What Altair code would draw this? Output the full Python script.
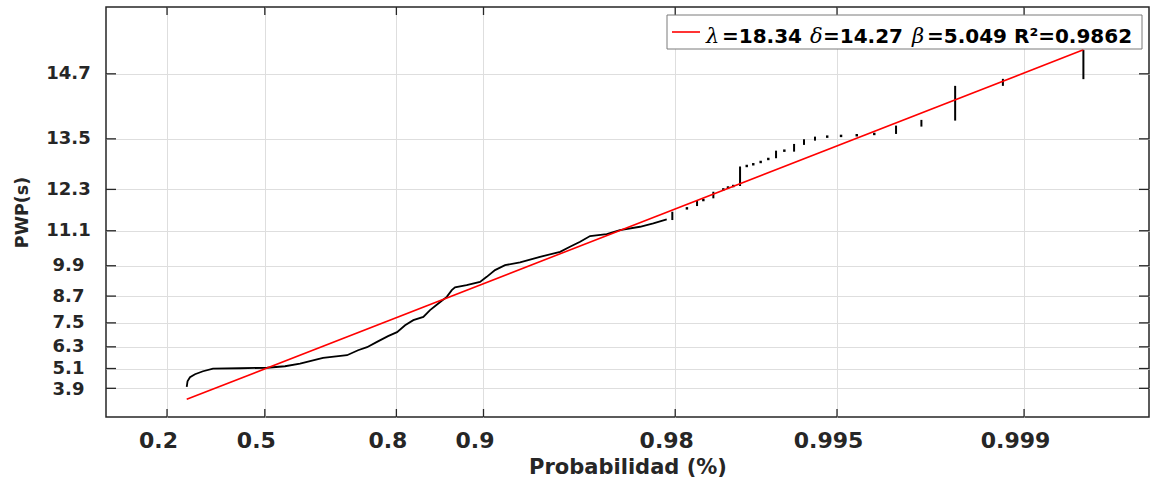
import math
import altair as alt
import pandas as pd

# ---- fitted-distribution parameters (from the legend) ----
LAMBDA = 18.34
LEGEND_LAMBDA = "=18.34 "
LEGEND_DELTA = "=14.27 "
LEGEND_BETA = "=5.049 R\u00b2=0.9862"

# ---- axis ticks and visible ranges ----
X_TICKS = [0.2, 0.5, 0.8, 0.9, 0.98, 0.995, 0.999]
Y_TICKS = [3.9, 5.1, 6.3, 7.5, 8.7, 9.9, 11.1, 12.3, 13.5, 14.7]
X_RANGE = [0.06569, 0.999659]
Y_RANGE = [1.966, 15.624]

# ---- empirical curve (probability, PWP s) ----
CURVE_P = [0.2571, 0.2595, 0.2670, 0.2823, 0.3071, 0.3386, 0.4239, 0.5066, 0.5585,
           0.5994, 0.6572, 0.7108, 0.7331, 0.7503, 0.7682, 0.7868, 0.8010, 0.8130,
           0.8246, 0.8379, 0.8462, 0.8560, 0.8654, 0.8707, 0.8740, 0.8853, 0.8971,
           0.9026, 0.9090, 0.9162, 0.9260, 0.9373, 0.9470, 0.9512, 0.9552, 0.9588,
           0.9642, 0.9680, 0.9730, 0.9759, 0.9785]
CURVE_Y = [3.986, 4.34, 4.584, 4.763, 4.941, 5.098, 5.116, 5.145, 5.231,
           5.386, 5.701, 5.849, 6.120, 6.280, 6.558, 6.849, 7.048, 7.389,
           7.627, 7.782, 8.087, 8.384, 8.668, 8.948, 9.059, 9.152, 9.283,
           9.480, 9.737, 9.923, 10.023, 10.224, 10.401, 10.573, 10.742, 10.930,
           10.994, 11.122, 11.226, 11.331, 11.453]

# ---- upper tail: vertical runs of tied plotting positions ----
SEG_P = [0.9795, 0.9834, 0.98556, 0.98851, 0.99156, 0.99277, 0.99336, 0.99396,
         0.99699, 0.99758, 0.99819, 0.99880, 0.99940]
SEG_LO = [11.432, 11.843, 12.059, 12.389, 13.071, 13.221, 13.370, 13.462,
          13.603, 13.753, 13.872, 14.503, 14.614]
SEG_HI = [11.679, 11.984, 12.238, 12.877, 13.243, 13.391, 13.492, 13.547,
          13.773, 13.886, 14.503, 14.619, 15.063]

# ---- upper tail: isolated points ----
DOT_P = [0.9819, 0.98427, 0.98674, 0.98726, 0.98782, 0.98915, 0.98974, 0.99037,
         0.99098, 0.99214, 0.99456, 0.99517, 0.99578, 0.99637]
DOT_Y = [11.777, 12.012, 12.30, 12.35, 12.389, 12.889, 12.930, 12.984,
         13.054, 13.243, 13.547, 13.562, 13.576, 13.603]

# ---- fitted line end points ----
FIT_P = [0.2571, 0.9994]
FIT_Y = [3.188, 15.063]


def gum(p):
    return -math.log(-math.log(p))


def wy(y):
    return -math.log(LAMBDA - y)


X_DOMAIN = [gum(X_RANGE[0]), gum(X_RANGE[1])]
Y_DOMAIN = [wy(Y_RANGE[0]), wy(Y_RANGE[1])]
X_VALUES = [gum(p) for p in X_TICKS]
Y_VALUES = [wy(v) for v in Y_TICKS]
LOWEST_SPLIT = (wy(Y_TICKS[0]) + wy(Y_TICKS[1])) / 2

XCALC = "-log(-log(datum.p))"


def ycalc(field):
    return f"-log({LAMBDA} - datum.{field})"


W, H = 1043, 410
FONT = "DejaVu Sans"
TXT = "#262626"
GRID = "#dedede"

xscale = alt.Scale(domain=X_DOMAIN, nice=False, zero=False)
yscale = alt.Scale(domain=Y_DOMAIN, nice=False, zero=False)

xaxis = alt.Axis(
    values=X_VALUES,
    labelExpr="format(exp(-exp(-datum.value)), '.3~f')",
    title="Probabilidad (%)",
    grid=True, gridColor=GRID, gridWidth=1,
    ticks=False, tickSize=0, domain=False,
    labelFont=FONT, labelFontWeight="bold", labelFontSize=22, labelColor=TXT,
    labelBaseline="alphabetic", labelPadding=30, labelOffset=-9,
    labelFlush=False, labelOverlap=False,
    titleFont=FONT, titleFontWeight="bold", titleFontSize=21, titleColor=TXT,
    titleBaseline="alphabetic", titleX=W / 2, titleY=56,
)
yaxis = alt.Axis(
    values=Y_VALUES,
    labelExpr=f"format({LAMBDA} - exp(-datum.value), '.1f')",
    title="PWP(s)",
    grid=True, gridColor=GRID, gridWidth=1,
    ticks=False, tickSize=0, domain=False,
    labelFont=FONT, labelFontWeight="bold", labelFontSize=18, labelColor=TXT,
    labelAlign="center", labelBaseline="middle", labelPadding=38,
    labelOffset={"condition": {"test": f"datum.value < {LOWEST_SPLIT}", "value": 1.5},
                 "value": 0},
    labelFlush=False, labelOverlap=False,
    titleFont=FONT, titleFontWeight="bold", titleFontSize=17.5, titleColor=TXT,
    titleAngle=270, titleBaseline="middle", titleX=-84, titleY=H / 2,
)

X = alt.X("gx:Q", scale=xscale, axis=xaxis)


def Y(field):
    return alt.Y(f"{field}:Q", scale=yscale, axis=yaxis)


curve = (
    alt.Chart(pd.DataFrame({"p": CURVE_P, "y": CURVE_Y}))
    .transform_calculate(gx=XCALC, gy=ycalc("y"))
    .mark_line(color="black", strokeWidth=1.8)
    .encode(x=X, y=Y("gy"))
)

segs = (
    alt.Chart(pd.DataFrame({"p": SEG_P, "lo": SEG_LO, "hi": SEG_HI}))
    .transform_calculate(gx=XCALC, g1=ycalc("lo"), g2=ycalc("hi"))
    .mark_rule(color="black", strokeWidth=2)
    .encode(x=X, y=Y("g1"), y2="g2:Q")
)

dots = (
    alt.Chart(pd.DataFrame({"p": DOT_P, "y": DOT_Y}))
    .transform_calculate(gx=XCALC, gy=ycalc("y"))
    .mark_square(size=6, color="black", opacity=1)
    .encode(x=X, y=Y("gy"))
)

fit = (
    alt.Chart(pd.DataFrame({"p": FIT_P, "y": FIT_Y}))
    .transform_calculate(gx=XCALC, gy=ycalc("y"))
    .mark_line(color="#ff0000", strokeWidth=1.6)
    .encode(x=X, y=Y("gy"))
)

xt = alt.Chart(pd.DataFrame({"p": X_TICKS})).transform_calculate(gx=XCALC)
xticks_bottom = xt.mark_rule(color=TXT, strokeWidth=1.3).encode(
    x=X, y=alt.value(H), y2=alt.value(H - 8))
xticks_top = xt.mark_rule(color=TXT, strokeWidth=1.3).encode(
    x=X, y=alt.value(0), y2=alt.value(8))

yt = alt.Chart(pd.DataFrame({"y": Y_TICKS})).transform_calculate(gy=ycalc("y"))
yticks_left = yt.mark_rule(color=TXT, strokeWidth=1.3).encode(
    y=Y("gy"), x=alt.value(0), x2=alt.value(10))
yticks_right = yt.mark_rule(color=TXT, strokeWidth=1.3).encode(
    y=Y("gy"), x=alt.value(W), x2=alt.value(W - 10))

one = alt.Data(values=[{"k": 1}])
leg_box = alt.Chart(one).mark_rect(fill="white", stroke="#7a7a7a", strokeWidth=1).encode(
    x=alt.value(561), x2=alt.value(1036), y=alt.value(8), y2=alt.value(42))
leg_line = alt.Chart(one).mark_rule(color="#ff0000", strokeWidth=1.6).encode(
    x=alt.value(566), x2=alt.value(594), y=alt.value(25))


def greek(ch, xpos):
    return alt.Chart(one).mark_text(
        align="left", baseline="alphabetic", font="DejaVu Serif",
        fontStyle="italic", fontSize=21, color="black",
    ).encode(x=alt.value(xpos), y=alt.value(36), text=alt.value(ch))


def bold(txt, xpos):
    return alt.Chart(one).mark_text(
        align="left", baseline="alphabetic", font=FONT,
        fontWeight="bold", fontSize=20, color="black",
    ).encode(x=alt.value(xpos), y=alt.value(36), text=alt.value(txt))


legend = [
    leg_box, leg_line,
    greek("\u03bb", 600), bold(LEGEND_LAMBDA, 616),
    greek("\u03b4", 704), bold(LEGEND_DELTA, 717),
    greek("\u03b2", 806), bold(LEGEND_BETA, 821),
]

chart = (
    alt.layer(curve, segs, dots, fit, xticks_bottom, xticks_top,
              yticks_left, yticks_right, *legend)
    .properties(
        width=W, height=H,
        padding={"left": 106, "top": 7, "right": 2, "bottom": 63},
        autosize=alt.AutoSizeParams(type="none"),
        background="white",
    )
    .configure_view(stroke=TXT, strokeWidth=1.5)
)

chart.save("out.html", embed_options={"renderer": "svg", "actions": False})
